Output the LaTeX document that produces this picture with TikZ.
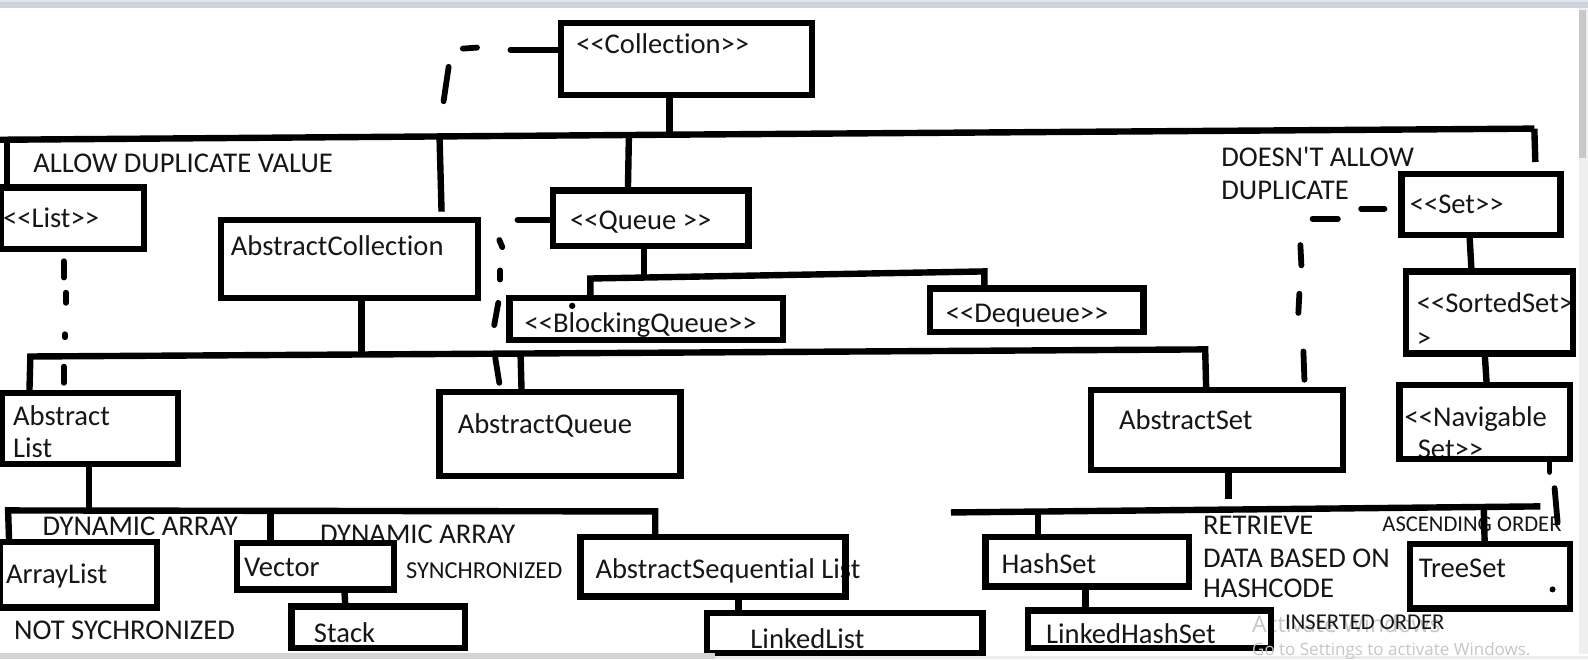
\documentclass[tikz,border=0pt]{standalone}
\usepackage{fontspec}
\newfontfamily\calfont{Carlito}[Ligatures={NoCommon}]
\newfontfamily\wmfont{Open Sans}
\usetikzlibrary{fit}
\definecolor{txt}{HTML}{161616}
\definecolor{topbar}{HTML}{CDD3DD}
\definecolor{topbarlt}{HTML}{E2E6EC}
\definecolor{wmgray}{HTML}{C6C6C6}
\definecolor{scrollbg}{HTML}{EFEFEF}
\definecolor{scrollth}{HTML}{C8C8C8}
\definecolor{botbar}{HTML}{D4D4D4}
\definecolor{botbarlt}{HTML}{EBEBEB}
\begin{document}
\begin{tikzpicture}[x=0.5064pt,y=-0.5064pt,
  ln/.style={line width=3.2pt, line cap=butt, line join=miter},
  dsh/.style={line width=2.9pt, line cap=round},
  boxst/.style={draw, line width=3.2pt, inner sep=0pt, outer sep=0pt, line join=miter},
  lbl/.style={inner sep=0pt, outer sep=0pt, anchor=base west, text=txt, font=\calfont\fontsize{14.3}{16}\selectfont},
  sml/.style={lbl, font=\calfont\fontsize{12.2}{14}\selectfont},
  xsml/.style={lbl, font=\calfont\fontsize{11.3}{13}\selectfont},
  wma/.style={inner sep=0pt, anchor=base west, text=wmgray, font=\wmfont\fontsize{11.5}{13}\selectfont},
  wmb/.style={inner sep=0pt, anchor=base west, text=wmgray, font=\wmfont\fontsize{8.5}{10}\selectfont}
]
\useasboundingbox (0,0) rectangle (1568,651);
\fill[white] (0,0) rectangle (1568,651);
\fill[topbar] (0,0) rectangle (1568,7.5);
\fill[topbarlt] (0,0) rectangle (1568,1.8);

% ---- watermark (first line)
\node[wma] (wm-a) at (1236,625) {Activate Windows};

% ---- texts
\node[lbl] (t-coll) at (569,53) {<<Collection>>};
\node[lbl] (t-allow) at (33,170) {ALLOW DUPLICATE VALUE};
\node[lbl] (t-list) at (3,225) {<<List>>};
\node[lbl] (t-acoll) at (228,252) {AbstractCollection};
\node[lbl] (t-queue) at (563,227) {<<Queue >>};
\node[lbl] (t-bq) at (518,328) {<<BlockingQueue>>};
\node[lbl] (t-deq) at (934,318) {<<Dequeue>>};
\node[lbl] (t-dna1) at (1206,164) {DOESN'T ALLOW};
\node[lbl] (t-dna2) at (1206,197) {DUPLICATE};
\node[lbl] (t-set) at (1392,211) {<<Set>>};
\node[lbl] (t-ss1) at (1399,309) {<<SortedSet>};
\node[lbl] (t-ss2) at (1399,343) {>};
\node[lbl] (t-al1) at (13,420) {Abstract};
\node[lbl] (t-al2) at (13,452) {List};
\node[lbl] (t-aq) at (452,428) {AbstractQueue};
\node[lbl] (t-as) at (1105,424) {AbstractSet};
\node[lbl] (t-ns1) at (1387,421) {<<Navigable};
\node[lbl] (t-ns2) at (1400,453) {Set>>};
\node[lbl] (t-arl) at (6,576) {ArrayList};
\node[lbl] (t-vec) at (241,569) {Vector};
\node[lbl] (t-stk) at (310,634) {Stack};
\node[lbl] (t-asl) at (588,571) {AbstractSequential List};
\node[lbl] (t-ll) at (741,640) {LinkedList};
\node[lbl] (t-hs) at (989,566) {HashSet};
\node[lbl] (t-lhs) at (1033,635) {LinkedHashSet};
\node[lbl] (t-ts) at (1401,570) {TreeSet};
\node[lbl] (t-r1) at (1188,528) {RETRIEVE};
\node[lbl] (t-r2) at (1188,560) {DATA BASED ON};
\node[lbl] (t-r3) at (1188,590) {HASHCODE};
\node[xsml] (t-asc) at (1365,525) {ASCENDING ORDER};
\node[xsml] (t-ins) at (1269,622) {INSERTED ORDER};
\node[lbl] (t-dyn1) at (42,529) {DYNAMIC ARRAY};
\node[lbl] (t-dyn2) at (316,537) {DYNAMIC ARRAY};
\node[sml] (t-sync) at (401,571) {SYNCHRONIZED};
\node[lbl] (t-nsync) at (14,631) {NOT SYCHRONIZED};

% ---- boxes
\node[boxst, fit={(554,23) (802,94)}] (collection) {};
\node[boxst, fit={(1,185) (142,246)}] (list) {};
\node[boxst, fit={(218,217) (472,294)}] (acoll) {};
\node[boxst, fit={(546,188) (739,243)}] (queue) {};
\node[boxst, fit={(503,294) (773,336)}] (bqueue) {};
\node[boxst, fit={(918,285) (1129,328)}] (dequeue) {};
\node[boxst, fit={(1384,172) (1541,232)}] (set) {};
\node[boxst, fit={(1388,268) (1553,349)}] (sortedset) {};
\node[boxst, fit={(1382,380) (1550,453)}] (navset) {};
\node[boxst, fit={(2,388) (176,458)}] (alist) {};
\node[boxst, fit={(434,387) (672,470)}] (aqueue) {};
\node[boxst, fit={(1077,385) (1326,464)}] (aset) {};
\node[boxst, fit={(0,535) (155,600)}] (arraylist) {};
\node[boxst, fit={(234,536) (389,582)}] (vector) {};
\node[boxst, fit={(288,599) (459,640)}] (stack) {};
\node[boxst, fit={(573,530) (835,589)}] (aseqlist) {};
\node[boxst, fit={(698,605) (970,645)}] (linkedlist) {};
\node[boxst, fit={(973,530) (1174,579)}] (hashset) {};
\node[boxst, fit={(1015,603) (1255,640)}] (lhashset) {};
\node[boxst, fit={(1392,537) (1550,601)}] (treeset) {};

% ---- junction bars
\coordinate (mb-l) at (0,138);
\coordinate (mb-m) at (661,133);
\coordinate (mb-r) at (1515,127);
\draw[ln] (mb-l) -- (mb-m) -- (mb-r);
\draw[ln] (collection.south -| mb-m) -- (mb-m);
\draw[ln] (7,138) -- (list.north -| 7,0);
\draw[ln] (434,135) -- (436,209);
\draw[ln] (621,133) -- (queue.north -| 620,0);
\draw[ln] (mb-r) -- (1516,160);

% queue sub-hierarchy
\coordinate (qb-l) at (583,275);
\coordinate (qb-r) at (972,268);
\draw[ln] (queue.south -| 636,0) -- (636,272);
\draw[ln] (bqueue.north -| qb-l) -- (qb-l) -- (qb-r) -- (dequeue.north -| qb-r);

% second bar
\coordinate (sb-l) at (30,352);
\coordinate (sb-r) at (1190,345);
\draw[ln] (acoll.south -| 357,0) -- (357,350);
\draw[ln] (alist.north -| 29,0) -- (sb-l) -- (sb-r) -- (aset.north -| 1191,0);
\draw[ln] (514,349) -- (aqueue.north -| 515,0);

% list bar
\coordinate (lb-l) at (8,504);
\coordinate (lb-r) at (647,505);
\draw[ln] (alist.south -| 88,0) -- (88,504);
\draw[ln] (arraylist.north -| 9,0) -- (lb-l) -- (lb-r) -- (aseqlist.north -| lb-r);
\draw[ln] (267,504) -- (vector.north -| 267,0);
\draw[ln] (vector.south -| 340,0) -- (stack.north -| 341,0);
\draw[ln] (aseqlist.south -| 729,0) -- (linkedlist.north -| 729,0);

% set bar
\coordinate (st-l) at (939,506);
\coordinate (st-r) at (1521,500);
\draw[ln] (aset.south -| 1213,0) -- (1213,493);
\draw[ln] (st-l) -- (st-r);
\draw[ln] (1025,505) -- (hashset.north -| 1025,0);
\draw[ln] (1465,500) -- (treeset.north -| 1466,0);
\draw[ln] (hashset.south -| 1072,0) -- (lhashset.north -| 1072,0);
\draw[ln] (set.south -| 1451,0) -- (sortedset.north -| 1453,0);
\draw[ln] (sortedset.south -| 1466,0) -- (navset.north -| 1468,0);

% ---- dashed (hand drawn) links
\draw[dsh] (collection.west |- 0,49) -- (504,49);
\draw[dsh] (471,47) -- (457,48);
\draw[dsh] (443,66) -- (438,100);
\draw[dsh] (63,258) -- (63,274);
\draw[dsh] (65,289) -- (65,299);
\draw[dsh] (64,330) -- (64,333);
\draw[dsh] (63,362) -- (63,378);
\draw[dsh] (queue.west |- 0,217) -- (511,217);
\draw[dsh] (493,237) -- (496,244);
\draw[dsh] (494,267) -- (494,276);
\draw[dsh] (492,299) -- (488,321);
\draw[dsh] (489,353) -- (493,378);
\draw[dsh] (1344,206) -- (1367,206);
\draw[dsh] (1296,216) -- (1321,216);
\draw[dsh] (1284,242) -- (1285,262);
\draw[dsh] (1283,290) -- (1282,309);
\draw[dsh] (1287,347) -- (1288,375);
\draw[dsh] (navset.south -| 1530,0) -- (1530,466);
\draw[dsh] (1535,482) -- (1538,516);
\fill (565,302) circle (1.6pt);
\fill (1533,582) circle (1.5pt);

% ---- window chrome
\fill[scrollbg] (1559,7.5) rectangle (1568,646);
\fill[scrollth] (1559,10) rectangle (1566,156);
\fill[botbar] (0,645) rectangle (706,651);
\fill[botbarlt] (706,648) rectangle (1568,651);
\node[wmb] (wm-b) at (1236,647) {Go to Settings to activate Windows.};
\end{tikzpicture}
\end{document}
